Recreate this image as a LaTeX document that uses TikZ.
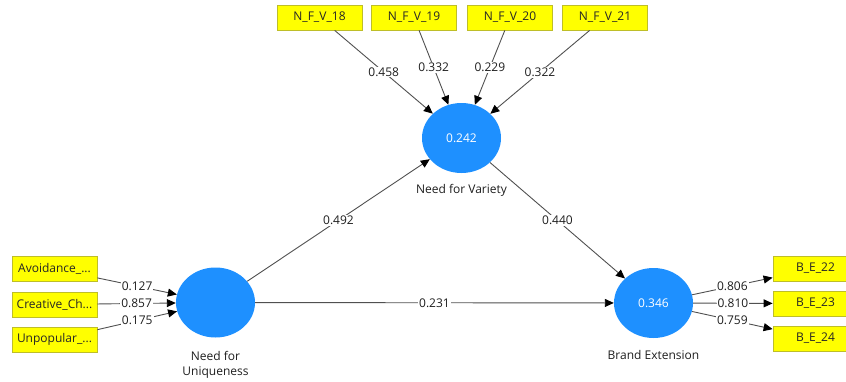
\documentclass[tikz,border=0pt]{standalone}
\usepackage{fontspec}
\setmainfont{Open Sans}
\usetikzlibrary{shapes.geometric,arrows.meta}
\definecolor{lvblue}{RGB}{30,144,255}
\definecolor{indyel}{RGB}{255,255,0}
\definecolor{indborder}{RGB}{190,190,40}
\definecolor{linegray}{RGB}{80,80,80}
\definecolor{txtgray}{RGB}{30,30,30}
\begin{document}
\begin{tikzpicture}[x=1pt,y=-1pt,
  ind/.style={draw=indborder,fill=indyel,line width=0.8pt,minimum width=85pt,minimum height=25pt,inner sep=0pt,font=\fontsize{12}{14}\selectfont,text=black!85},
  lv/.style={ellipse,fill=lvblue,minimum width=79pt,minimum height=70pt,inner sep=0pt,font=\fontsize{12}{14}\selectfont,text=white},
  lvlabel/.style={font=\fontsize{12}{15}\selectfont,text=txtgray,align=center},
  conn/.style={draw=linegray,line width=0.9pt,-{Triangle[length=9pt,width=8pt,color=black]}},
  wt/.style={midway,fill=white,inner sep=1pt,font=\fontsize{12}{14}\selectfont,text=txtgray}]
\useasboundingbox (0,0) rectangle (846,381);
\clip (0,0) rectangle (846,381);
% latent variables
\node[lv] (nfv) at (461.5,138) {0.242};
\node[lv] (nfu) at (215.5,302.5) {};
\node[lv] (be) at (653.5,303) {0.346};
\node[lvlabel] (nfvl) at (461.5,190) {Need for Variety};
\node[lvlabel] (nful) at (215.5,364.5) {Need for\\Uniqueness};
\node[lvlabel] (bel) at (653.5,355) {Brand Extension};
% top indicators
\node[ind] (v18) at (319.5,17.5) {N\_F\_V\_18};
\node[ind] (v19) at (414,17.5) {N\_F\_V\_19};
\node[ind] (v20) at (510,17.5) {N\_F\_V\_20};
\node[ind] (v21) at (605,17.5) {N\_F\_V\_21};
% left indicators
\node[ind] (avo) at (54.5,269) {Avoidance\_...};
\node[ind] (cre) at (54.5,304.5) {Creative\_Ch...};
\node[ind] (unp) at (54.5,339.5) {Unpopular\_...};
% right indicators
\node[ind] (b22) at (815.5,268.5) {B\_E\_22};
\node[ind] (b23) at (815.5,303.5) {B\_E\_23};
\node[ind] (b24) at (815.5,338.5) {B\_E\_24};
% connectors
\draw[conn] (v18) -- node[wt]{0.458} (nfv);
\draw[conn] (v19) -- node[wt]{0.332} (nfv);
\draw[conn] (v20) -- node[wt]{0.229} (nfv);
\draw[conn] (v21) -- node[wt]{0.322} (nfv);
\draw[conn] (avo) -- node[wt]{0.127} (nfu);
\draw[conn] (cre) -- node[wt]{0.857} (nfu);
\draw[conn] (unp) -- node[wt]{0.175} (nfu);
\draw[conn] (nfu) -- node[wt]{0.492} (nfv);
\draw[conn] (nfv) -- node[wt]{0.440} (be);
\draw[conn] (nfu) -- node[wt]{0.231} (be);
\draw[conn] (be) -- node[wt]{0.806} (b22);
\draw[conn] (be) -- node[wt]{0.810} (b23);
\draw[conn] (be) -- node[wt]{0.759} (b24);
\end{tikzpicture}
\end{document}
